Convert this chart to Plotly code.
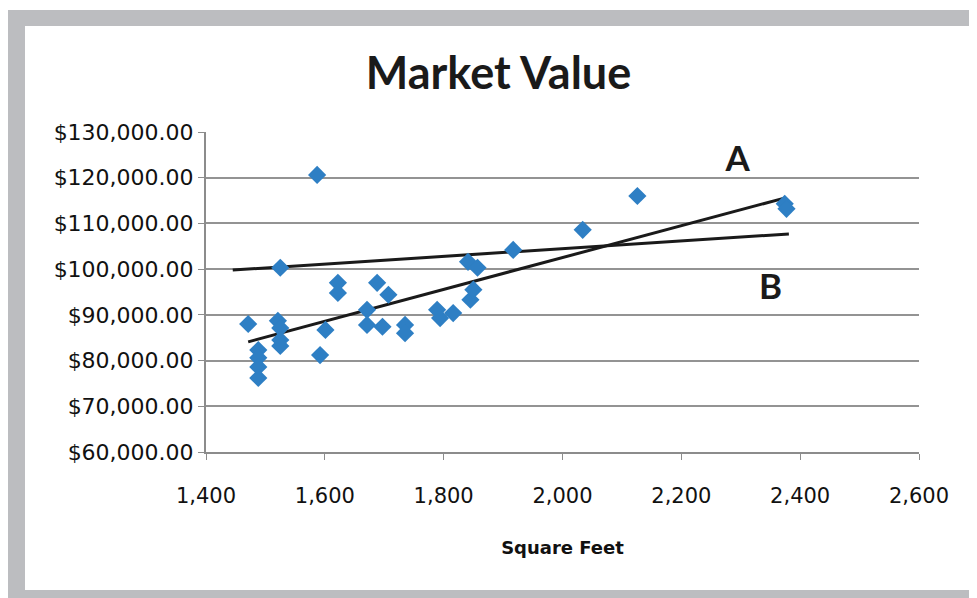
import plotly.graph_objects as go

# Data
square_feet = [1471, 1521, 1525, 1525, 1525, 1488, 1488, 1488, 1488, 1525,
               1587, 1601, 1592, 1622, 1622, 1688, 1707, 1671, 1671, 1697,
               1735, 1735, 1789, 1794, 1816, 1845, 1850, 1841, 1857, 1917,
               2034, 2126, 2374, 2377]
market_value = [88000, 88700, 87100, 84500, 83200, 82300, 80600, 78600, 76200, 100300,
                120600, 86700, 81200, 97000, 94800, 97000, 94400, 91100, 87800, 87400,
                87800, 86000, 91100, 89300, 90400, 93300, 95500, 101600, 100300, 104200,
                108600, 116000, 114300, 113200]

line_a_x = [1471, 2375]
line_a_y = [84100, 115600]
line_b_x = [1445, 2381]
line_b_y = [99800, 107700]

label_text = ["A", "B"]
label_x = [2295, 2350]
label_y = [123400, 95300]

title_text = "Market Value"
x_title = "Square Feet"
x_ticks = [1400, 1600, 1800, 2000, 2200, 2400, 2600]
y_ticks = [60000, 70000, 80000, 90000, 100000, 110000, 120000, 130000]

# page has an 8px body margin; figure sized so it ends at the window edge
OFF = 8
W, H = 977 - OFF, 598 - OFF
PL, PR, PT, PB = 206, 919, 132, 452  # plot area in screen pixels
L, R, T, B = PL - OFF, 977 - PR, PT - OFF, 598 - PB


def px(sx):
    return (sx - PL) / (PR - PL)


def py(sy):
    return (PB - sy) / (PB - PT)


fig = go.Figure()
fig.add_trace(go.Scatter(x=line_a_x, y=line_a_y, mode="lines",
                         line=dict(color="#1a1a1a", width=3), showlegend=False))
fig.add_trace(go.Scatter(x=line_b_x, y=line_b_y, mode="lines",
                         line=dict(color="#1a1a1a", width=3), showlegend=False))
fig.add_trace(go.Scatter(x=square_feet, y=market_value, mode="markers",
                         marker=dict(symbol="diamond", size=14, color="#2e7fc4",
                                     line=dict(width=0)),
                         showlegend=False))
fig.add_trace(go.Scatter(x=label_x, y=label_y, mode="text", text=label_text,
                         textfont=dict(family="Lato", size=35, color="#1a1a1a"),
                         texttemplate="<b>%{text}</b>", showlegend=False))

# gray frame around the chart
fig.add_shape(type="rect", xref="paper", yref="paper",
              x0=px(8), x1=px(990), y0=py(610), y1=py(10),
              fillcolor="#bcbdc0", line=dict(width=0), layer="below")
fig.add_shape(type="rect", xref="paper", yref="paper",
              x0=px(25), x1=px(973), y0=py(590), y1=py(26),
              fillcolor="white", line=dict(width=0), layer="below")

fig.update_layout(
    width=W, height=H,
    margin=dict(l=L, r=R, t=T, b=B),
    paper_bgcolor="white", plot_bgcolor="rgba(0,0,0,0)",
    title=dict(text="<b>" + title_text + "</b>", x=((367 + 630) / 2 - OFF) / W,
               xanchor="center", y=1 - (73 - OFF) / H, yanchor="middle",
               font=dict(family="Lato", size=45, color="#1a1a1a")),
    font=dict(family="DejaVu Sans", color="#1a1a1a"),
)
fig.update_xaxes(range=[1400, 2600], tickvals=x_ticks, tickformat=",d",
                 showgrid=False, zeroline=False,
                 showline=True, linecolor="#8c8c8c", linewidth=2,
                 ticks="outside", ticklen=6, tickcolor="#8c8c8c", tickwidth=1,
                 ticklabelstandoff=18,
                 tickfont=dict(family="DejaVu Sans", size=21, color="#111111"),
                 title=dict(text="<b>" + x_title + "</b>",
                            font=dict(family="DejaVu Sans", size=18, color="#111111"),
                            standoff=34))
fig.update_yaxes(range=[60000, 130000], tickvals=y_ticks, tickformat="$,.2f",
                 showgrid=True, gridcolor="#939393", gridwidth=2, zeroline=False,
                 showline=True, linecolor="#8c8c8c", linewidth=2,
                 ticks="outside", ticklen=6, tickcolor="#8c8c8c", tickwidth=1,
                 tickfont=dict(family="DejaVu Sans", size=22, color="#111111"))

fig.write_html("out.html")
